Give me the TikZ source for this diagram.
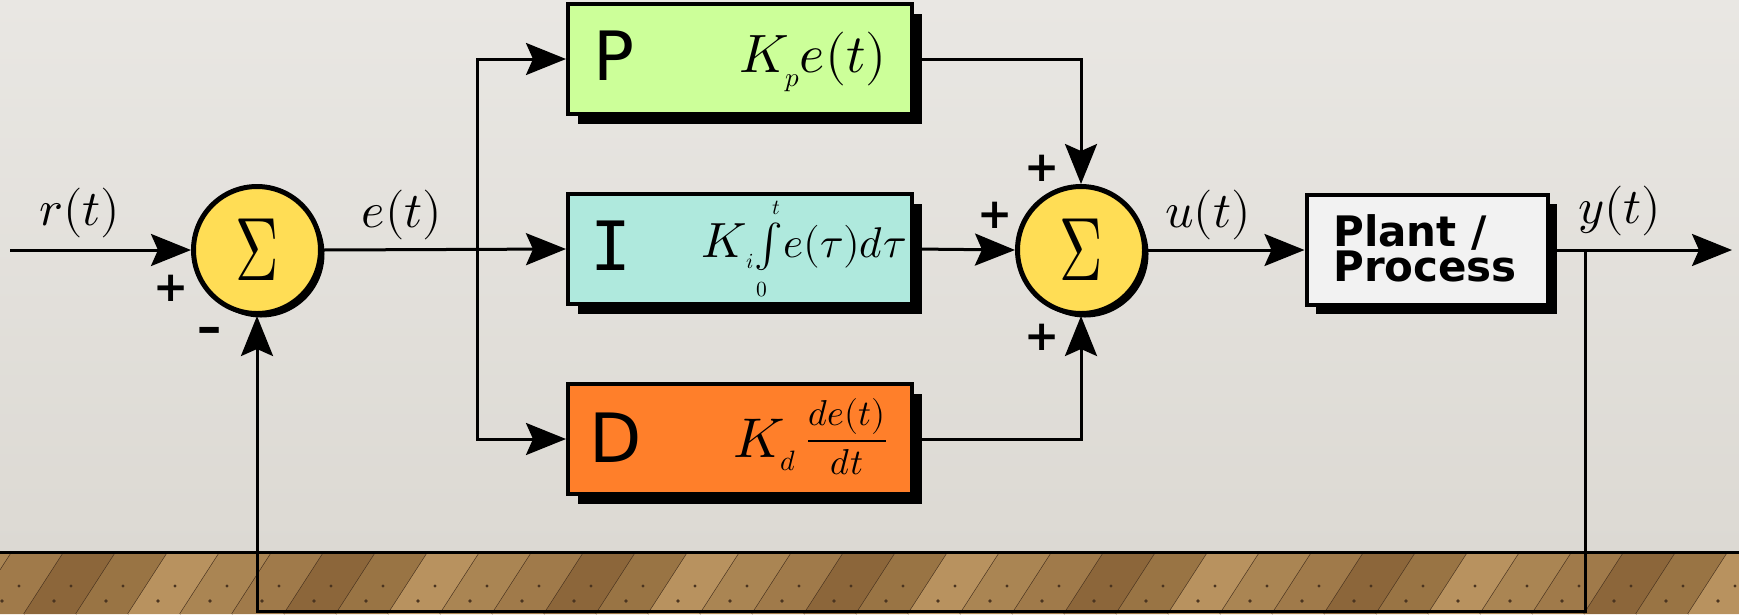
\documentclass[tikz,border=0pt]{standalone}
\usepackage{fontspec}
\usepackage{unicode-math}
\setmathfont{Latin Modern Math}
\newfontfamily\djsans{DejaVu Sans}
\newfontfamily\djmono{DejaVu Sans Mono}
\usetikzlibrary{arrows.meta,shadows}
\definecolor{walltop}{HTML}{E9E7E3}
\definecolor{wallbot}{HTML}{DCD9D3}
\definecolor{wood1}{HTML}{A07A4A}
\definecolor{wood2}{HTML}{B8925F}
\definecolor{wood3}{HTML}{8C663A}
\definecolor{wood4}{HTML}{AA8553}
\definecolor{wood5}{HTML}{997444}
\definecolor{plankedge}{HTML}{4A3420}
\definecolor{pgreen}{HTML}{CCFF99}
\definecolor{icyan}{HTML}{AFE9DD}
\definecolor{dorange}{HTML}{FF7F2A}
\definecolor{sumyellow}{HTML}{FFDD55}
\definecolor{plantgray}{HTML}{F2F2F2}
\tikzset{
  wire/.style={line width=3pt,-{Stealth[length=40pt,width=32pt,inset=7pt]}},
  plainwire/.style={line width=3pt},
  blockbox/.style={draw,line width=4pt,minimum width=344pt,minimum height=110pt,inner sep=0pt,
    drop shadow={shadow xshift=10pt,shadow yshift=-10pt,opacity=1,fill=black}},
  sumnode/.style={circle,draw,line width=5pt,fill=sumyellow,minimum size=127pt,inner sep=0pt,
    drop shadow={shadow xshift=4pt,shadow yshift=-4pt,opacity=1,fill=black}},
  siglabel/.style={inner sep=0pt,font=\fontsize{50}{54}\selectfont},
  signmark/.style={inner sep=0pt,font=\djsans\bfseries\fontsize{42}{42}\selectfont},
  letter/.style={inner sep=0pt,anchor=base,font=\djsans\fontsize{68}{68}\selectfont},
}
\begin{document}
\begin{tikzpicture}[x=1pt,y=-1pt]
\useasboundingbox (0,0) rectangle (1739,614);
% wall
\fill[top color=walltop,bottom color=wallbot] (0,0) rectangle (1739,552);
% floor
\fill[wood1] (0,552) rectangle (1739,614);
\foreach \i in {0,...,36}{
  \pgfmathtruncatemacro\k{mod(\i*7+3,5)+1}
  \fill[wood\k] ({-80+\i*52},614) -- ({-40+\i*52},552) -- ({12+\i*52},552) -- ({-28+\i*52},614) -- cycle;
  \draw[plankedge,line width=1.3pt] ({-28+\i*52},614) -- ({12+\i*52},552);
  \fill[plankedge] ({-50+\i*52},601) circle (1.8);
  \fill[plankedge] ({-33+\i*52},586) circle (1.6);
}
\draw[line width=3pt] (0,552) -- (1739,552);

% blocks
\node[blockbox,fill=pgreen] (P) at (740,59) {};
\node[blockbox,fill=icyan] (I) at (740,249) {};
\node[blockbox,fill=dorange] (D) at (740,439) {};
\node[draw,line width=4pt,fill=plantgray,minimum width=241pt,minimum height=110pt,inner sep=0pt,
  drop shadow={shadow xshift=9pt,shadow yshift=-9pt,opacity=1,fill=black}] (Plant) at (1427,250) {};
\node[anchor=west,align=left,inner sep=0pt,font=\djsans\bfseries\fontsize{42}{35}\selectfont] (PlantTxt) at (1333,248) {Plant /\\Process};

\node[letter] (Pl) at (614,80) {P};
\node[inner sep=0pt,anchor=base,font=\djmono\fontsize{68}{68}\selectfont] (Il) at (611,270) {I};
\node[letter] (Dl) at (616,462) {D};

\node[inner sep=0pt] (KP) at (813,62) {\fontsize{54}{58}\selectfont $K_{\scriptscriptstyle p}e(t)$};
\node[inner sep=0pt] (KI) at (804,249) {\fontsize{43}{48}\selectfont $\scalebox{1.15}{$K$}_{\scriptscriptstyle i}\!\int\limits_{\scriptscriptstyle 0}^{\scriptscriptstyle t}\! e(\tau)d\tau$};
\node[inner sep=0pt,anchor=base west] (KD) at (733,457) {\fontsize{56}{60}\selectfont $K_{\scriptscriptstyle d}$};
\node[inner sep=0pt] (KDf) at (847,437) {\fontsize{36}{40}\selectfont $\displaystyle\frac{de(t)}{dt}$};

% summing junctions
\node[sumnode] (S1) at (257,250) {\fontsize{60}{60}\selectfont\scalebox{1}[1.5]{$\Sigma$}};
\node[sumnode] (S2) at (1081,250) {\fontsize{60}{60}\selectfont\scalebox{1}[1.5]{$\Sigma$}};

% coordinates
\coordinate (in) at (10,250);
\coordinate (br) at (477,250);
\coordinate (out) at (1732,250);
\coordinate (fbtop) at (1585,250);
\coordinate (fbbot) at (1585,611);

% connectors
\draw[wire] (in) -- (S1.west);
\draw[wire] (S1.east) -- (I.west);
\draw[wire] (br) |- (P.west);
\draw[wire] (br) |- (D.west);
\draw[wire] (P.east) -| (S2.north);
\draw[wire] (I.east) -- (S2.west);
\draw[wire] (D.east) -| (S2.south);
\draw[wire] (S2.east) -- (Plant.west);
\draw[wire] (Plant.east) -- (out);
\draw[wire] (fbtop) -- (fbbot) -| (S1.south);

% labels
\node[siglabel] (rl) at (80,213) {$r(t)$};
\node[siglabel] (el) at (402,215) {$e(t)$};
\node[siglabel] (ul) at (1208,215) {$u(t)$};
\node[siglabel] (yl) at (1620,211) {$y(t)$};

\node[signmark] (p1) at (171,288) {+};
\node[signmark] (m1) at (210,335) {\scalebox{1.5}[1]{-}};
\node[signmark] (p2) at (1042,168) {+};
\node[signmark] (p3) at (995,215) {+};
\node[signmark] (p4) at (1042,337) {+};
\end{tikzpicture}
\end{document}
